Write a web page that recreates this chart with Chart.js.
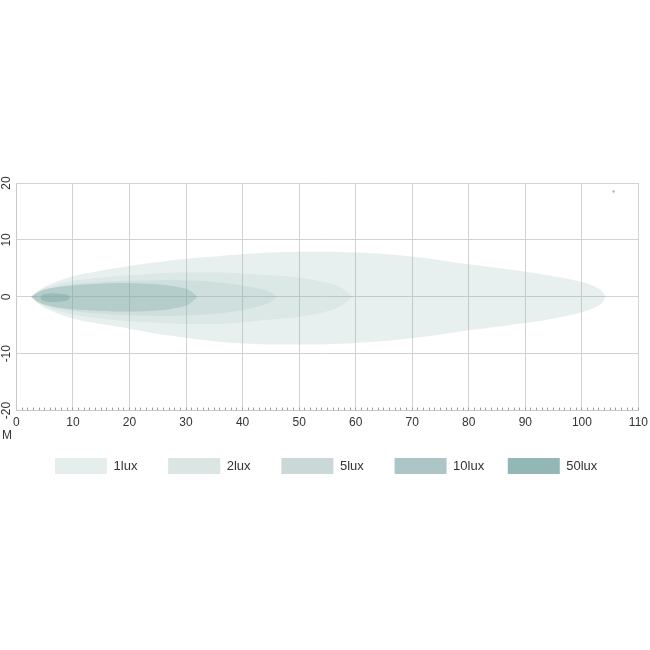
<!DOCTYPE html>
<html>
<head>
<meta charset="utf-8">
<script src="https://cdn.jsdelivr.net/npm/chart.js@4.4.1/dist/chart.umd.min.js"></script>
<style>
  html,body{margin:0;padding:0;background:#fff;overflow:hidden;}
  #wrap{width:656px;height:650px;}
</style>
</head>
<body>
<div id="wrap"><canvas id="beam"></canvas></div>
<script>
// isolux contours, distance (m) vs lateral offset (m)
const lux1X      = [2.6, 4, 6, 10, 15, 20, 25, 30, 35, 40, 50, 60, 70, 80, 90, 95, 100, 102.5, 103.6, 104.2];
const lux1Top    = [0, 1.2, 2.2, 3.6, 4.6, 5.4, 6.1, 6.7, 7.1, 7.5, 7.9, 7.8, 7.1, 5.7, 4.4, 3.6, 2.6, 1.7, 0.9, 0];
const lux1Bottom = [0, -1.3, -2.4, -3.8, -4.8, -5.6, -6.5, -7.2, -7.8, -8.2, -8.4, -8.1, -7.3, -5.9, -4.6, -3.8, -2.7, -1.8, -1.0, 0];

const lux2X      = [2.6, 4, 6, 10, 15, 20, 25, 30, 35, 40, 45, 50, 54, 57, 59.5];
const lux2Top    = [0, 1.0, 1.8, 2.8, 3.4, 3.8, 4.1, 4.3, 4.3, 4.1, 3.8, 3.4, 2.7, 1.8, 0];
const lux2Bottom = [0, -1.1, -2.0, -3.1, -3.8, -4.3, -4.6, -4.8, -4.8, -4.5, -4.0, -3.5, -2.8, -1.8, 0];

const lux5X      = [2.6, 4, 6, 10, 15, 20, 25, 30, 35, 40, 43, 45, 46];
const lux5Top    = [0, 0.9, 1.5, 2.2, 2.6, 2.8, 2.9, 2.9, 2.6, 2.0, 1.4, 0.8, 0];
const lux5Bottom = [0, -1.0, -1.7, -2.5, -3.0, -3.3, -3.4, -3.3, -3.0, -2.3, -1.6, -0.9, 0];

const lux10X      = [2.6, 4, 6, 10, 15, 20, 25, 28, 30.5, 32];
const lux10Top    = [0, 0.9, 1.5, 2.0, 2.3, 2.4, 2.2, 1.8, 1.2, 0];
const lux10Bottom = [0, -1.0, -1.6, -2.2, -2.5, -2.6, -2.4, -2.0, -1.3, 0];

const lux50X      = [4.2, 4.6, 5.5, 6.8, 8.0, 9.0, 9.5];
const lux50Top    = [-0.15, 0.35, 0.55, 0.6, 0.5, 0.3, -0.15];
const lux50Bottom = [-0.15, -0.65, -0.85, -0.9, -0.8, -0.6, -0.15];

const levels      = ['1lux', '2lux', '5lux', '10lux', '50lux'];
const xTickLabels = [0, 10, 20, 30, 40, 50, 60, 70, 80, 90, 100, 110];
const yTickLabels = [-20, -10, 0, 10, 20];
const axisUnit = 'M';

const shapes = [
  [lux1X, lux1Top, lux1Bottom],
  [lux2X, lux2Top, lux2Bottom],
  [lux5X, lux5Top, lux5Bottom],
  [lux10X, lux10Top, lux10Bottom],
  [lux50X, lux50Top, lux50Bottom]
];
const fillColors = ['rgba(130,170,168,0.18)', 'rgba(130,170,168,0.12)', 'rgba(130,170,168,0.13)',
                    'rgba(130,170,168,0.36)', 'rgba(130,170,168,0.5)'];
const swatchColors = ['#e6eded', '#dbe5e3', '#cad9d7', '#adc6c5', '#93b7b4'];
// equal-width legend labels so the items sit at an even pitch
const legendText = ['1lux   ', '2lux   ', '5lux   ', '10lux ', '50lux '];

const FONT = '"Liberation Sans", Arial, sans-serif';

const datasets = [];
shapes.forEach((s, i) => {
  const [xs, top, bot] = s;
  datasets.push({
    label: levels[i] + ' top',
    data: xs.map((x, k) => ({x, y: top[k]})),
    showLine: true, borderWidth: 0, pointRadius: 0, tension: 0.4, fill: false
  });
  datasets.push({
    label: levels[i],
    data: xs.map((x, k) => ({x, y: bot[k]})),
    showLine: true, borderWidth: 0, pointRadius: 0, tension: 0.4,
    fill: '-1', backgroundColor: fillColors[i]
  });
});
datasets.push({
  label: 'dot', data: [{x: 105.6, y: 18.5}],
  pointRadius: 1.2, pointBackgroundColor: '#b5b5b5', pointBorderWidth: 0
});

const unitLabel = {
  id: 'unitLabel',
  afterDraw(chart) {
    const {ctx, chartArea} = chart;
    ctx.save();
    ctx.font = '12px ' + FONT;
    ctx.fillStyle = '#333';
    ctx.textBaseline = 'middle';
    ctx.textAlign = 'left';
    ctx.fillText(axisUnit, 2, chartArea.bottom + 25);
    ctx.restore();
  }
};

new Chart(document.getElementById('beam'), {
  type: 'scatter',
  data: {datasets},
  plugins: [unitLabel],
  options: {
    responsive: true,
    maintainAspectRatio: false,
    animation: false,
    layout: {padding: {top: 183, right: 0, left: 0, bottom: 166}},
    plugins: {
      tooltip: {enabled: false},
      legend: {
        position: 'bottom',
        labels: {
          boxWidth: 52, boxHeight: 16, padding: 20,
          color: '#333', font: {size: 13, family: FONT},
          generateLabels: chart => levels.map((lv, i) => ({
            text: legendText[i], fillStyle: swatchColors[i],
            strokeStyle: 'rgba(0,0,0,0)', lineWidth: 0, fontColor: '#333',
            datasetIndex: i * 2 + 1, hidden: false
          }))
        }
      }
    },
    scales: {
      x: {
        type: 'linear', min: 0, max: 110,
        border: {color: '#c8c8c8'},
        grid: {
          color: c => (c.tick && c.tick.value % 10 === 0) ? '#d2d2d2' : 'rgba(0,0,0,0)',
          tickColor: '#9a9a9a', tickLength: -3
        },
        ticks: {
          stepSize: 1, autoSkip: false, maxRotation: 0, minRotation: 0, padding: 8,
          color: '#333', font: {size: 12, family: FONT},
          callback: v => xTickLabels.includes(v) ? String(v) : ''
        }
      },
      y: {
        type: 'linear', min: -20, max: 20,
        border: {color: '#c8c8c8'},
        grid: {color: '#d2d2d2', drawTicks: false},
        ticks: {
          stepSize: 10, padding: 1, minRotation: 90, maxRotation: 90, crossAlign: 'center',
          color: '#333', font: {size: 12, family: FONT},
          callback: v => yTickLabels.includes(v) ? String(v) : ''
        }
      }
    }
  }
});
</script>
</body>
</html>
